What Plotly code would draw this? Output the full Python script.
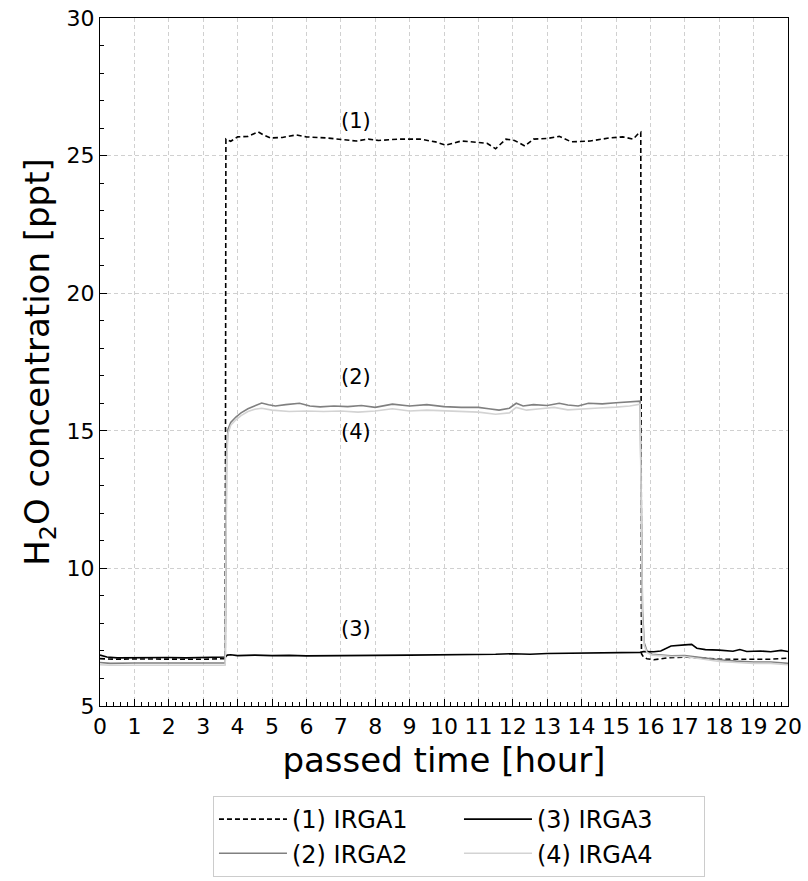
import plotly.graph_objects as go

# IRGA1 (dashed black)
t1 = [0, 0.5, 1, 1.5, 2, 2.5, 3, 3.5, 3.64, 3.66, 3.8, 4.0, 4.3, 4.6, 4.75, 4.95, 5.3, 5.7, 6.0, 6.6,
      7.0, 7.45, 7.8, 8.1, 8.7, 9.3, 9.75, 10.05, 10.5, 11.0, 11.25, 11.5, 11.8, 12.05, 12.35, 12.6,
      13.0, 13.35, 13.7, 14.25, 14.8, 15.2, 15.5, 15.65, 15.72, 15.74, 15.8, 15.9, 16.1, 16.5, 17.0,
      17.5, 18.0, 18.5, 19.0, 19.5, 20.0]
v1 = [6.72, 6.7, 6.71, 6.7, 6.71, 6.7, 6.7, 6.71, 6.72, 25.6, 25.52, 25.68, 25.7, 25.86, 25.75, 25.64,
      25.66, 25.75, 25.68, 25.64, 25.6, 25.53, 25.6, 25.55, 25.6, 25.6, 25.5, 25.38, 25.53, 25.48, 25.45,
      25.25, 25.6, 25.55, 25.35, 25.6, 25.62, 25.7, 25.5, 25.53, 25.64, 25.68, 25.6, 25.8, 25.85, 6.9,
      6.78, 6.72, 6.68, 6.75, 6.78, 6.74, 6.7, 6.7, 6.71, 6.7, 6.74]

# IRGA2 (gray)
t2 = [0, 0.3, 1, 2, 3, 3.6, 3.64, 3.66, 3.68, 3.72, 3.8, 3.95, 4.1, 4.3, 4.5, 4.7, 4.9, 5.1, 5.4, 5.8,
      6.1, 6.4, 6.8, 7.2, 7.6, 8.0, 8.5, 9.0, 9.5, 10.0, 10.5, 11.0, 11.3, 11.6, 11.9, 12.1, 12.3, 12.6,
      13.0, 13.35, 13.6, 13.9, 14.2, 14.6, 15.0, 15.4, 15.7, 15.74, 15.77, 15.82, 15.9, 16.05, 16.3,
      16.6, 17.0, 17.3, 17.6, 18.0, 18.5, 19.0, 19.5, 20.0]
v2 = [6.58, 6.55, 6.56, 6.55, 6.55, 6.55, 6.56, 10.0, 14.2, 15.05, 15.3, 15.5, 15.65, 15.8, 15.9, 16.01,
      15.95, 15.9, 15.95, 16.0, 15.9, 15.87, 15.9, 15.88, 15.92, 15.85, 15.97, 15.9, 15.95, 15.88, 15.85,
      15.85, 15.8, 15.75, 15.82, 16.0, 15.9, 15.95, 15.92, 16.0, 15.94, 15.9, 16.0, 15.98, 16.02, 16.05,
      16.08, 12.0, 8.5, 7.3, 7.0, 6.88, 6.85, 6.82, 6.83, 6.78, 6.72, 6.68, 6.63, 6.6, 6.6, 6.55]

# IRGA3 (black)
t3 = [0, 0.2, 0.5, 1, 1.5, 2, 2.5, 3, 3.5, 3.65, 3.7, 3.8, 4.0, 4.5, 5.0, 5.5, 6.0, 7.0, 8.0, 9.0,
      10.0, 11.0, 11.5, 12.0, 12.5, 13.0, 14.0, 15.0, 15.7, 15.8, 16.1, 16.3, 16.6, 17.0, 17.2, 17.35,
      17.6, 18.0, 18.4, 18.6, 18.8, 19.2, 19.5, 19.8, 20.0]
v3 = [6.85, 6.78, 6.75, 6.76, 6.75, 6.76, 6.75, 6.76, 6.77, 6.78, 6.85, 6.86, 6.83, 6.85, 6.83, 6.84,
      6.82, 6.84, 6.84, 6.85, 6.86, 6.85, 6.88, 6.9, 6.88, 6.91, 6.92, 6.93, 6.95, 6.98, 6.97, 7.0,
      7.18, 7.22, 7.24, 7.1, 7.05, 7.03, 6.99, 7.05, 6.98, 7.0, 6.97, 7.02, 6.98]

# IRGA4 (light gray)
t4 = [0, 0.3, 1, 2, 3, 3.6, 3.64, 3.66, 3.68, 3.72, 3.8, 3.95, 4.1, 4.3, 4.5, 4.7, 5.0, 5.5, 6.0, 6.5,
      7.0, 7.5, 8.0, 8.5, 9.0, 9.5, 10.0, 10.5, 11.0, 11.5, 11.9, 12.1, 12.4, 12.8, 13.2, 13.6, 14.0,
      14.5, 15.0, 15.4, 15.7, 15.74, 15.77, 15.82, 15.9, 16.05, 16.3, 16.6, 17.0, 17.3, 17.6, 18.0,
      18.5, 19.0, 19.5, 20.0]
v4 = [6.5, 6.48, 6.48, 6.47, 6.48, 6.48, 6.49, 9.5, 13.8, 14.9, 15.2, 15.4, 15.55, 15.7, 15.78, 15.82,
      15.75, 15.7, 15.72, 15.7, 15.72, 15.68, 15.72, 15.8, 15.72, 15.75, 15.72, 15.7, 15.68, 15.6, 15.65,
      15.85, 15.75, 15.8, 15.85, 15.76, 15.8, 15.83, 15.86, 15.9, 15.97, 11.5, 8.2, 7.2, 6.95, 6.85,
      6.82, 6.8, 6.8, 6.74, 6.68, 6.62, 6.58, 6.55, 6.55, 6.5]

names = ["(1) IRGA1", "(2) IRGA2", "(3) IRGA3", "(4) IRGA4"]
labels = ["(1)", "(2)", "(3)", "(4)"]
label_x = [7.45, 7.45, 7.45, 7.45]
label_y = [26.25, 16.95, 7.8, 14.95]

FONT = "DejaVu Sans"
fig = go.Figure()
fig.add_trace(go.Scatter(x=t1, y=v1, mode="lines", name=names[0], legendrank=1,
                         line=dict(color="black", width=1.6, dash="5px,3px")))
fig.add_trace(go.Scatter(x=t2, y=v2, mode="lines", name=names[1], legendrank=3,
                         line=dict(color="#808080", width=1.6)))
fig.add_trace(go.Scatter(x=t3, y=v3, mode="lines", name=names[2], legendrank=2,
                         line=dict(color="black", width=1.6)))
fig.add_trace(go.Scatter(x=t4, y=v4, mode="lines", name=names[3], legendrank=4,
                         line=dict(color="#d3d3d3", width=1.6)))

for lx, ly, lt in zip(label_x, label_y, labels):
    fig.add_annotation(x=lx, y=ly, text=lt, showarrow=False,
                       font=dict(family=FONT, size=21, color="black"))

axis_common = dict(showline=True, linecolor="black", linewidth=1.3, mirror=True,
                   ticks="inside", ticklen=7, tickwidth=1, tickcolor="black",
                   showgrid=True, gridcolor="#d0d0d0", griddash="4px,3px", gridwidth=0.8,
                   zeroline=False, tickfont=dict(family=FONT, size=22, color="black"))

fig.update_xaxes(range=[0, 20], tickmode="linear", tick0=0, dtick=1,
                 minor=dict(ticks="inside", ticklen=3.5, dtick=0.2, tickcolor="black", showgrid=False),
                 title=dict(text="passed time [hour]", font=dict(family=FONT, size=34, color="black"),
                            standoff=10),
                 automargin=False,
                 **axis_common)
fig.update_yaxes(range=[5, 30], tickmode="linear", tick0=5, dtick=5,
                 minor=dict(ticks="inside", ticklen=3.5, dtick=1, tickcolor="black", showgrid=False),
                 title=dict(text="H<sub>2</sub>O concentration [ppt]",
                            font=dict(family=FONT, size=34, color="black"), standoff=6),
                 automargin=False,
                 **axis_common)

fig.update_layout(
    width=808, height=881,
    margin=dict(l=100, r=20, t=18, b=175, autoexpand=False),
    plot_bgcolor="white", paper_bgcolor="white",
    font=dict(family=FONT, color="black"),
    legend=dict(orientation="h", x=0.1642, xanchor="left", y=-0.1308, yanchor="top",
                entrywidth=162, entrywidthmode="pixels", itemwidth=68,
                bordercolor="#cccccc", borderwidth=1, bgcolor="white",
                font=dict(family=FONT, size=24, color="black"),
                traceorder="normal"),
)

fig.write_html("out.html")
